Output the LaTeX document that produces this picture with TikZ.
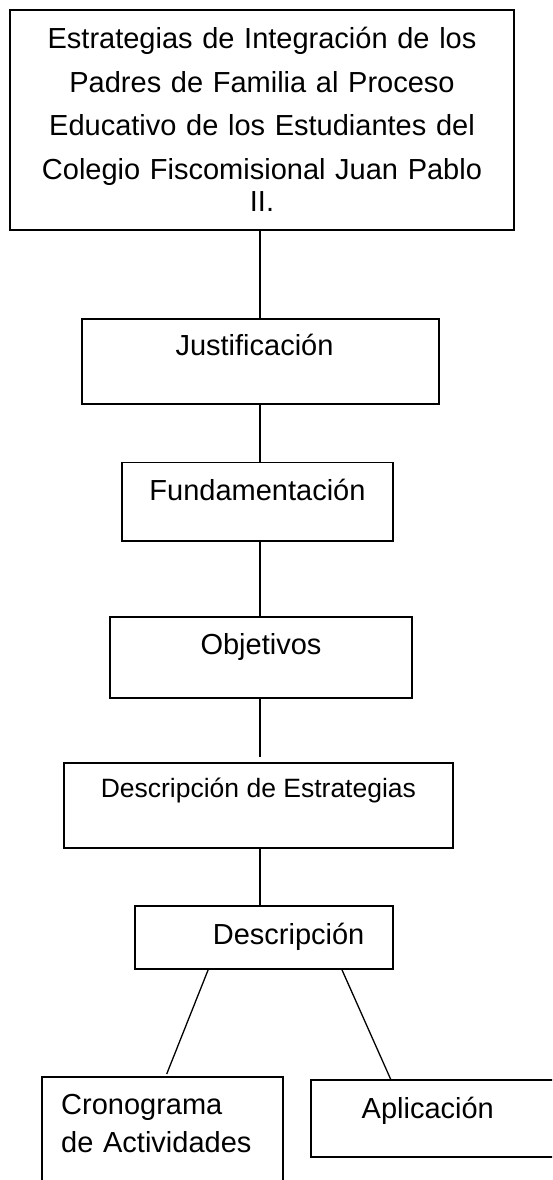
\documentclass[tikz,border=0pt]{standalone}
\usepackage{fontspec}
\setmainfont{Liberation Sans}
\usetikzlibrary{calc}

\begin{document}
\begin{tikzpicture}[x=1pt,y=-1pt,
  caja/.style={draw,line width=1.7pt,inner xsep=0pt,inner ysep=0pt,outer sep=0pt,
    font=\fontsize{29pt}{43.5pt}\selectfont},
  linea/.style={line width=1.3pt}]
\useasboundingbox (0,0) rectangle (552,1180);
\clip (0,0) rectangle (552,1180);

\node[caja,anchor=base,text width=480pt,inner xsep=12pt,align=center,
  text height=38.7pt,text depth=181.3pt] (titulo) at (262,48.7)
  {Estrategias de Integración de los\\ Padres de Familia al Proceso\\
   Educativo de los Estudiantes del\\ Colegio Fiscomisional Juan Pablo\\[-11pt] II.};

\node[caja,anchor=base,minimum width=357.6pt,text height=36pt,text depth=49.3pt] (just) at (260.5,355) {Justificación\hspace*{12pt}};
\node[caja,anchor=base,minimum width=271.6pt,text height=37.5pt,text depth=40.7pt] (fund) at (257.5,500) {Fundamentación};
\node[caja,anchor=base,minimum width=302pt,text height=36.7pt,text depth=43.7pt] (obj) at (261,654) {Objetivos};
\node[caja,anchor=base,minimum width=388.7pt,text height=35pt,text depth=50pt,
  font=\fontsize{26.5pt}{32pt}\selectfont] (desest) at (258.4,797.7) {Descripción de Estrategias};
\node[caja,anchor=base,minimum width=257.7pt,text height=38.3pt,text depth=25pt] (desc) at (263.9,944.3) {\hspace*{49.4pt}Descripción};
\node[caja,anchor=base west,text width=202pt,inner xsep=19.5pt,align=left,text height=37.3pt,text depth=110pt,
  font=\fontsize{29pt}{38.7pt}\selectfont] (crono) at (41.7,1114) {Cronograma\\ de Actividades};
\node[caja,anchor=base west,text width=249pt,inner xsep=51pt,align=left,text height=38.3pt,text depth=39pt] (aplic) at (310.7,1118.3) {Aplicación};

\coordinate (eje) at (260,0);
\draw[linea] (titulo.south -| eje) -- (just.north -| eje);
\draw[linea] (just.south -| eje) -- (fund.north -| eje);
\draw[linea] (fund.south -| eje) -- (obj.north -| eje);
\draw[linea] (obj.south -| eje) -- ($(desest.north -| eje)+(0,-6)$);
\draw[linea] (desest.south -| eje) -- (desc.north -| eje);
\draw[linea] ($(desc.south west)+(73.3,0)$) -- ($(crono.north west)+(125,-2.7)$);
\draw[linea] ($(desc.south west)+(206.7,0)$) -- ($(aplic.north west)+(80.3,0)$);
\end{tikzpicture}
\end{document}
